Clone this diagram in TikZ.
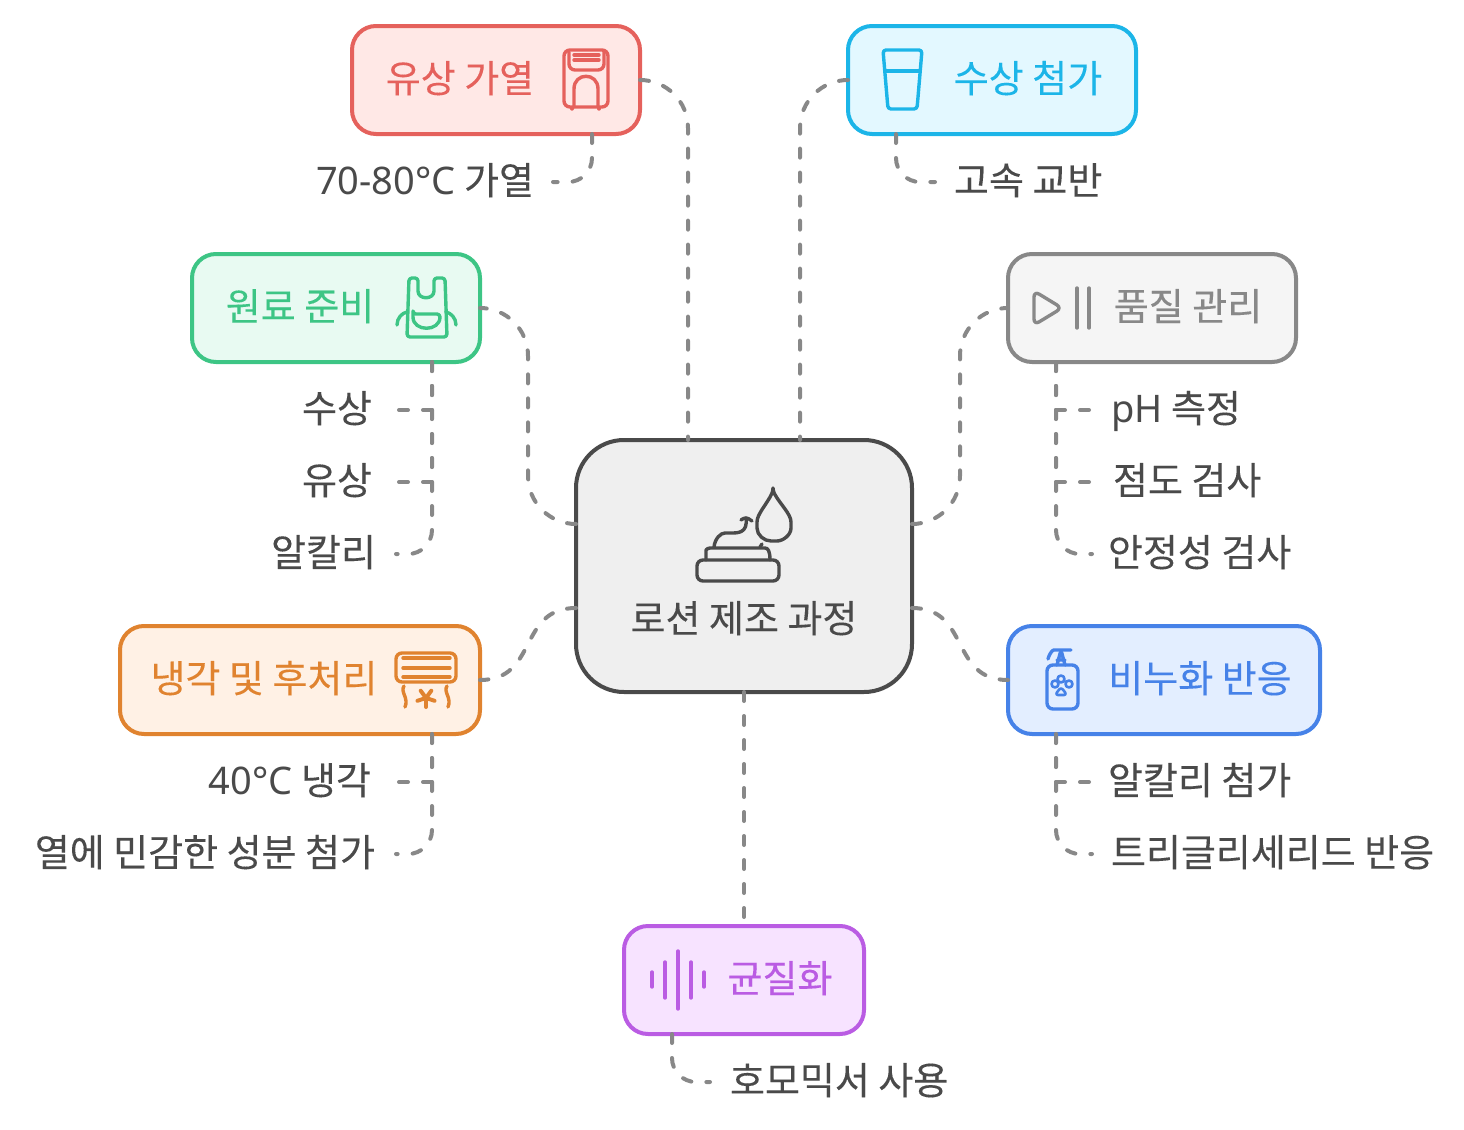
\documentclass[tikz,border=0pt]{standalone}
\usepackage{fontspec}
\setmainfont{Noto Sans CJK KR}[FakeBold=0.2]
\newfontfamily\latinfont{Noto Sans}
\usetikzlibrary{positioning,calc}
\definecolor{inkgray}{HTML}{4A4A4A}
\definecolor{linkgray}{HTML}{888888}
\definecolor{heatred}{HTML}{E5615C}
\definecolor{waterblue}{HTML}{1CB5E8}
\definecolor{rawgreen}{HTML}{3DC585}
\definecolor{coolorange}{HTML}{E0832F}
\definecolor{soapblue}{HTML}{4682E8}
\definecolor{mixpurple}{HTML}{BA5CE3}
\begin{document}
\begin{tikzpicture}[
x=0.5pt,y=-0.5pt,
box/.style={draw,line width=2pt,rounded corners=12pt,minimum width=144pt,minimum height=54pt,
inner sep=0pt,outer sep=0pt},
heatbox/.style={box,draw=heatred,fill={rgb,255:red,255;green,232;blue,230}},
waterbox/.style={box,draw=waterblue,fill={rgb,255:red,227;green,248;blue,255}},
rawbox/.style={box,draw=rawgreen,fill={rgb,255:red,232;green,250;blue,242}},
qualbox/.style={box,draw=linkgray,fill={rgb,255:red,245;green,245;blue,245}},
coolbox/.style={box,draw=coolorange,fill={rgb,255:red,255;green,241;blue,229}},
soapbox/.style={box,draw=soapblue,fill={rgb,255:red,227;green,238;blue,255}},
mixbox/.style={box,draw=mixpurple,fill={rgb,255:red,247;green,227;blue,255}},
txt/.style={font=\fontsize{19}{23}\selectfont,text height=15pt,text depth=2.56pt,inner ysep=0pt,inner xsep=0pt,outer sep=0pt},
leaf/.style={txt,text=inkgray,inner xsep=10pt},
link/.style={draw=linkgray,line width=2pt,line cap=round,dash pattern=on 4.5pt off 7.5pt},
swing/.style={link,rounded corners=24pt},
tail/.style={link,rounded corners=12pt},
icon/.style={line width=1.7pt,line cap=round,line join=round,rounded corners=1.5pt}
]
\useasboundingbox (0,0) rectangle (1464,1130);
\node[draw=inkgray,fill={rgb,255:red,239;green,239;blue,239},line width=2pt,rounded corners=24pt,minimum width=168pt,minimum height=126pt,
inner sep=0pt,outer sep=0pt] (core) at (744,566) {};
\node[heatbox,above left=153pt and -32pt of core] (heat) {};
\node[waterbox,above right=153pt and -32pt of core] (water) {};
\node[rawbox,above left=39pt and 48pt of core] (raw) {};
\node[qualbox,above right=39pt and 48pt of core] (qual) {};
\node[coolbox,minimum width=180pt,below left=-33pt and 48pt of core] (cool) {};
\node[soapbox,minimum width=156pt,below right=-33pt and 48pt of core] (soap) {};
\node[mixbox,minimum width=120pt,below=117pt of core] (mix) {};

\node[txt,text=inkgray] (coretxt) at ([yshift=-27pt]core.center) {로션 제조 과정};
\node[txt,text=heatred] (heattxt) at ([xshift=-18pt]heat.center) {유상 가열};
\node[txt,text=waterblue] (watertxt) at ([xshift=18pt]water.center) {수상 첨가};
\node[txt,text=rawgreen] (rawtxt) at ([xshift=-18pt]raw.center) {원료 준비};
\node[txt,text=linkgray] (qualtxt) at ([xshift=18pt]qual.center) {품질 관리};
\node[txt,text=coolorange] (cooltxt) at ([xshift=-18pt]cool.center) {냉각 및 후처리};
\node[txt,text=soapblue] (soaptxt) at ([xshift=18pt]soap.center) {비누화 반응};
\node[txt,text=mixpurple] (mixtxt) at ([xshift=18pt]mix.center) {균질화};

\node[leaf,inner xsep=9.5pt,below left=24pt and 43.5pt of heat.south east,anchor=east] (heata) {{\latinfont 70-80°C} 가열};
\node[leaf,inner xsep=9.5pt,below right=24pt and 43.5pt of water.south west,anchor=west] (watera) {고속 교반};
\node[leaf,inner xsep=12pt,below left=24pt and 42pt of raw.south east,anchor=east] (rawa) {수상};
\node[leaf,inner xsep=12pt,anchor=east] (rawb) at ([yshift=-36pt]rawa.east) {유상};
\node[leaf,inner xsep=10pt,anchor=east] (rawc) at ([yshift=-36pt]rawb.east) {알칼리};
\node[leaf,inner xsep=9.5pt,below right=24pt and 42pt of qual.south west,anchor=west] (quala) {{\latinfont pH} 측정};
\node[leaf,inner xsep=10.5pt,anchor=west] (qualb) at ([yshift=-36pt]quala.west) {점도 검사};
\node[leaf,inner xsep=8pt,anchor=west] (qualc) at ([yshift=-36pt]qualb.west) {안정성 검사};
\node[leaf,inner xsep=12.5pt,below left=24pt and 42pt of cool.south east,anchor=east] (coola) {{\latinfont 40°C} 냉각};
\node[leaf,inner xsep=10.5pt,anchor=east] (coolb) at ([yshift=-36pt]coola.east) {열에 민감한 성분 첨가};
\node[leaf,inner xsep=8pt,below right=24pt and 42pt of soap.south west,anchor=west] (soapa) {알칼리 첨가};
\node[leaf,inner xsep=9.5pt,anchor=west] (soapb) at ([yshift=-36pt]soapa.west) {트리글리세리드 반응};
\node[leaf,below right=24pt and 43pt of mix.south west,anchor=west] (mixa) {호모믹서 사용};

\coordinate (corenl) at ([xshift=-28pt]core.north);
\coordinate (corenr) at ([xshift=28pt]core.north);
\coordinate (coreul) at ([yshift=21pt]core.west);
\coordinate (coredl) at ([yshift=-21pt]core.west);
\coordinate (coreur) at ([yshift=21pt]core.east);
\coordinate (coredr) at ([yshift=-21pt]core.east);
\coordinate (heatfoot) at ([xshift=-24pt]heat.south east);
\coordinate (waterfoot) at ([xshift=24pt]water.south west);
\coordinate (rawfoot) at ([xshift=-24pt]raw.south east);
\coordinate (qualfoot) at ([xshift=24pt]qual.south west);
\coordinate (coolfoot) at ([xshift=-24pt]cool.south east);
\coordinate (soapfoot) at ([xshift=24pt]soap.south west);
\coordinate (mixfoot) at ([xshift=24pt]mix.south west);

\draw[swing] (heat.east) -| (corenl);
\draw[swing] (water.west) -| (corenr);
\draw[swing] (coreul) -| ($(raw.east)!.5!(coreul)$) |- (raw.east);
\draw[swing] (coreur) -| ($(qual.west)!.5!(coreur)$) |- (qual.west);
\draw[link] (coredl) to[out=180,in=0,looseness=1.25] (cool.east);
\draw[link] (coredr) to[out=0,in=180,looseness=1.25] (soap.west);
\draw[link] (core.south) -- (mix.north);

\draw[tail] (heatfoot) |- (heata.east);
\draw[tail] (waterfoot) |- (watera.west);
\draw[link] (rawfoot) |- (rawa.east);
\draw[link] (rawfoot) |- (rawb.east);
\draw[tail] (rawfoot) |- (rawc.east);
\draw[link] (qualfoot) |- (quala.west);
\draw[link] (qualfoot) |- (qualb.west);
\draw[tail] (qualfoot) |- (qualc.west);
\draw[link] (coolfoot) |- (coola.east);
\draw[tail] (coolfoot) |- (coolb.east);
\draw[link] (soapfoot) |- (soapa.west);
\draw[tail] (soapfoot) |- (soapb.west);
\draw[tail] (mixfoot) |- (mixa.west);

\begin{scope}[icon,draw=inkgray]
\draw[rounded corners=3pt] (697,560) rectangle (779,581);
\draw (706,560) -- (706,553) .. controls (706,549) and (709,548) .. (713,548) -- (762,548) .. controls (768,548) and (770,551) .. (770,560);
\draw (714,547) .. controls (715,538) and (721,533) .. (728,533) .. controls (738,533) and (748,533) .. (746,518);
\draw (741,520) -- (746,517) -- (752,521);
\draw (760,547) -- (762,544);
\draw (773,491) .. controls (780,504) and (791,514) .. (791,525) .. controls (791,535) and (783,541) .. (774,541) .. controls (764,541) and (757,535) .. (757,525) .. controls (757,514) and (767,504) .. (773,491) -- cycle;
\end{scope}
\begin{scope}[icon,draw=heatred]
\draw[rounded corners=3pt] (564,50) rectangle (608,107);
\draw[rounded corners=3pt] (569,52) -- (569,70) -- (604,70) -- (604,52);
\draw (574,55) -- (599,55) (574,60) -- (599,60);
\draw (574,107) -- (574,92) .. controls (574,72) and (598,72) .. (598,92) -- (598,107);
\draw (572,109) -- (572,108) (599,109) -- (599,108);
\end{scope}
\begin{scope}[icon,draw=waterblue]
\draw (883,50) -- (922,50) -- (917,109) -- (888,109) -- cycle;
\draw (885,71) -- (920,71);
\end{scope}
\begin{scope}[icon,draw=rawgreen]
\draw (407,337) -- (447,337) -- (445,278) -- (434,278) -- (434,288) .. controls (434,300) and (418,300) .. (418,288) -- (418,278) -- (409,278) -- cycle;
\draw (413,314) -- (440,314) .. controls (440,332) and (413,332) .. (413,314) -- cycle;
\draw (397,325) .. controls (397,318) and (402,313) .. (407,312);
\draw (456,325) .. controls (456,318) and (451,313) .. (446,312);
\end{scope}
\begin{scope}[icon,draw=linkgray]
\draw[rounded corners=3pt] (1034,291) -- (1062,308) -- (1034,325) -- cycle;
\draw (1077,288) -- (1077,328) (1089,288) -- (1089,328);
\end{scope}
\begin{scope}[icon,draw=coolorange]
\draw[rounded corners=3pt] (396,653) rectangle (456,682);
\draw (403,658) -- (450,658) (403,668) -- (450,668) (403,677) -- (450,677);
\draw (404,686) .. controls (400,692) and (409,698) .. (405,707);
\draw (447,686) .. controls (443,692) and (452,698) .. (448,707);
\foreach \a in {90,162,234,306,18} {\draw[line width=2pt] (426,698) -- ++({\a}:9);}
\end{scope}
\begin{scope}[icon,draw=soapblue]
\draw[rounded corners=3pt] (1047,665) rectangle (1078,709);
\draw (1048,659) .. controls (1050,652) and (1053,650) .. (1057,650) -- (1071,650);
\draw (1057,665) -- (1061,650) -- (1065,665) (1057,660) -- (1065,660);
\draw[line width=1.3pt] (1055,684) circle (3.5) (1061,679) circle (3.5) (1069,684) circle (3.5);
\draw[line width=1.3pt] (1061,687) -- (1067,695) -- (1055,695) -- cycle;
\end{scope}
\begin{scope}[icon,draw=mixpurple]
\draw (652,972) -- (652,987) (665,962) -- (665,998) (678,951) -- (678,1009) (691,962) -- (691,998) (704,972) -- (704,987);
\end{scope}
\end{tikzpicture}
\end{document}
